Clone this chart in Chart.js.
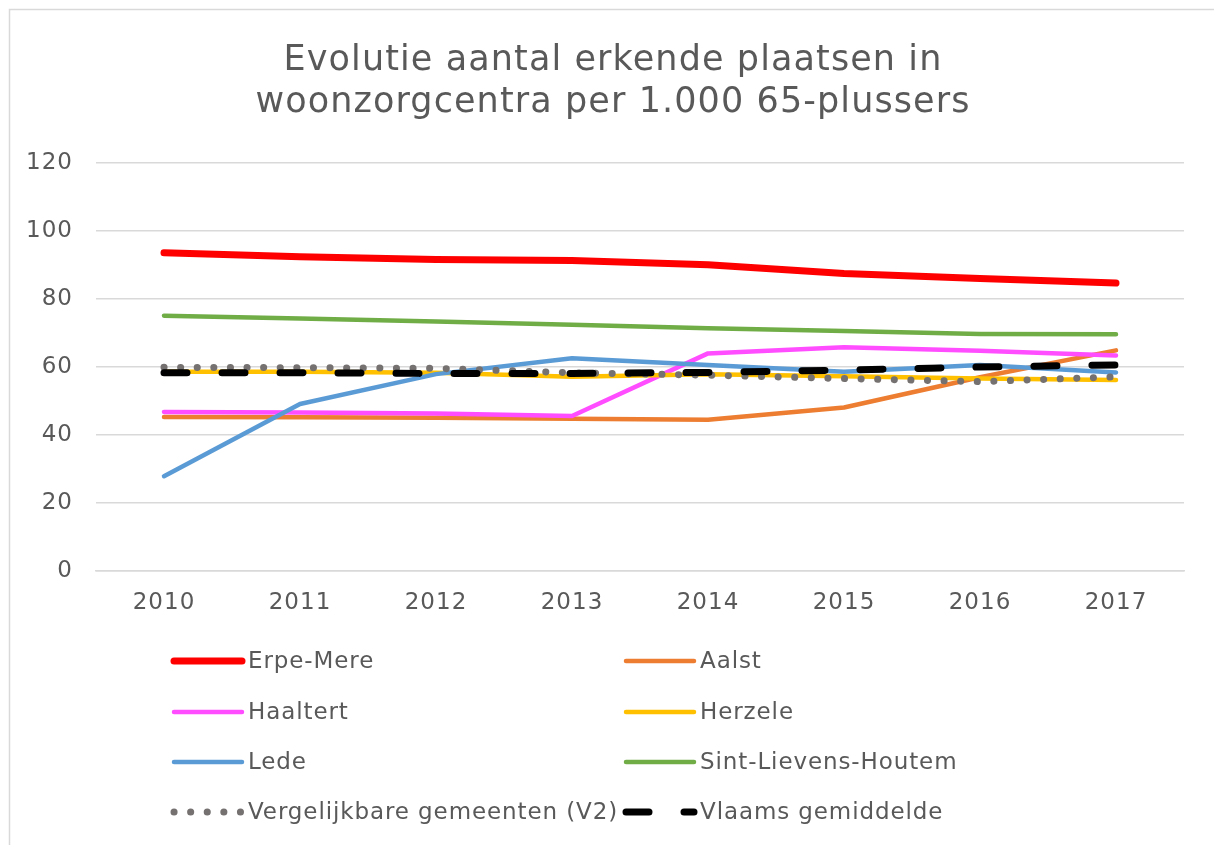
<!DOCTYPE html>
<html>
<head>
<meta charset="utf-8">
<script src="https://cdn.jsdelivr.net/npm/chart.js@4.4.1/dist/chart.umd.min.js"></script>
<style>
  html, body { margin: 0; padding: 0; background: #fff; }
  canvas { display: block; }
</style>
</head>
<body>
<canvas id="chart" width="1214" height="845"></canvas>
<script>
const years = ["2010", "2011", "2012", "2013", "2014", "2015", "2016", "2017"];
const titleLines = ["Evolutie aantal erkende plaatsen in", "woonzorgcentra per 1.000 65-plussers"];
const yTicks = [0, 20, 40, 60, 80, 100, 120];

const erpeMere = [93.6, 92.4, 91.6, 91.3, 90.1, 87.5, 86.0, 84.7];
const aalst = [45.3, 45.2, 45.1, 44.8, 44.5, 48.1, 57.0, 64.9];
const haaltert = [46.8, 46.6, 46.3, 45.6, 64.0, 65.8, 64.8, 63.4];
const herzele = [58.6, 58.6, 58.3, 57.1, 57.9, 57.3, 56.6, 56.2];
const lede = [27.9, 49.1, 57.9, 62.6, 60.6, 58.6, 60.6, 58.4];
const sintLievens = [75.1, 74.3, 73.4, 72.4, 71.4, 70.6, 69.7, 69.6];
const vergelijkbaar = [59.9, 59.8, 59.6, 58.3, 57.6, 56.6, 55.7, 57.1];
const vlaams = [58.3, 58.3, 58.1, 58.1, 58.4, 59.1, 60.0, 60.6];

const FONT = "'DejaVu Sans', Verdana, sans-serif";
const TEXT = "#595959";

function series(label, data, color, width, dash, order) {
  return {
    label: label, data: data, borderColor: color, backgroundColor: color,
    borderWidth: width, borderDash: dash || [], borderCapStyle: 'round',
    borderJoinStyle: 'round', pointRadius: 0, pointHoverRadius: 0,
    fill: false, tension: 0, order: order
  };
}

const decor = {
  id: 'decor',
  beforeUpdate(chart) {
    chart.ctx.letterSpacing = '1px'; // verdana-ish width for tick labels
  },
  beforeDraw(chart) {
    const ctx = chart.ctx;
    ctx.save();
    ctx.strokeStyle = '#d9d9d9';
    ctx.lineWidth = 1.5;
    ctx.strokeRect(9.5, 9.5, 1400, 1000);
    ctx.restore();
    ctx.letterSpacing = '1px';
  },
  afterDraw(chart) {
    const ctx = chart.ctx;
    ctx.save();
    ctx.fillStyle = TEXT;
    ctx.textAlign = 'center';
    ctx.textBaseline = 'middle';
    ctx.font = "35px " + FONT;
    ctx.letterSpacing = '1.1px';
    ctx.fillText(titleLines[0], 613, 61);
    ctx.fillText(titleLines[1], 613, 103);

    // legend in two columns
    ctx.font = "23px " + FONT;
    ctx.letterSpacing = '0.9px';
    ctx.textAlign = 'left';
    const cols = [171, 623];
    const rows = [661, 712, 762, 812];
    chart.data.datasets.forEach((ds, i) => {
      const x = cols[i % 2];
      const y = rows[Math.floor(i / 2)];
      ctx.save();
      ctx.strokeStyle = ds.borderColor;
      ctx.lineWidth = ds.borderWidth;
      ctx.lineCap = 'round';
      ctx.setLineDash(ds.borderDash);
      ctx.beginPath();
      ctx.moveTo(x + 3, y);
      ctx.lineTo(x + 71, y);
      ctx.stroke();
      ctx.restore();
      ctx.fillStyle = TEXT;
      ctx.fillText(ds.label, x + 77, y + 1);
    });
    ctx.restore();
  }
};

new Chart(document.getElementById("chart"), {
  type: 'line',
  data: {
    labels: years,
    datasets: [
      series("Erpe-Mere", erpeMere, "#FF0000", 7, null, 8),
      series("Aalst", aalst, "#ED7D31", 4.5, null, 7),
      series("Haaltert", haaltert, "#FF4DFF", 4.5, null, 6),
      series("Herzele", herzele, "#FFC000", 4.5, null, 5),
      series("Lede", lede, "#5B9BD5", 4.5, null, 4),
      series("Sint-Lievens-Houtem", sintLievens, "#70AD47", 4.5, null, 3),
      series("Vergelijkbare gemeenten (V2)", vergelijkbaar, "#767171", 7, [0.1, 16.5], 2),
      series("Vlaams gemiddelde", vlaams, "#000000", 7, [23, 35], 1)
    ]
  },
  options: {
    responsive: false,
    animation: false,
    layout: { padding: { top: 163, right: 30, bottom: 224, left: 0 } },
    plugins: {
      legend: { display: false },
      title: { display: false },
      tooltip: { enabled: false }
    },
    scales: {
      x: {
        offset: true,
        grid: { display: false, drawTicks: false },
        border: { display: true, color: '#d9d9d9', width: 1.5 },
        ticks: { color: TEXT, font: { family: FONT, size: 23 }, padding: 18, maxRotation: 0 },
        afterFit(scale) { scale.height = 50; }
      },
      y: {
        min: 0, max: 120,
        afterBuildTicks(scale) { scale.ticks = yTicks.map(v => ({ value: v })); },
        grid: { color: '#d9d9d9', lineWidth: 1.5, drawTicks: false },
        border: { display: false },
        ticks: { color: TEXT, font: { family: FONT, size: 23 }, padding: 23 },
        afterFit(scale) { scale.width = 96; }
      }
    }
  },
  plugins: [decor]
});
</script>
</body>
</html>
